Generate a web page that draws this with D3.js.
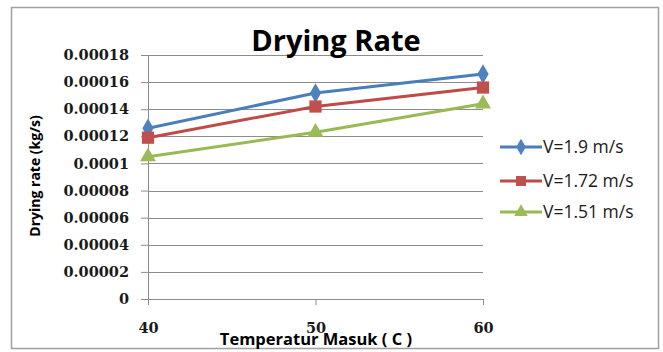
<!DOCTYPE html>
<html>
<head>
<meta charset="utf-8">
<script src="https://cdn.jsdelivr.net/npm/d3@7"></script>
<style>
  html, body { margin: 0; padding: 0; background: #fff; }
  svg { display: block; }
</style>
</head>
<body>
<div class="chart"></div>
<script>
// ----------------------------------
// DATA
// ----------------------------------
const temperatures = [40, 50, 60];
const seriesNames = ['V=1.9 m/s', 'V=1.72 m/s', 'V=1.51 m/s'];
const rateV190 = [0.000126, 0.000152, 0.000166];
const rateV172 = [0.000119, 0.000142, 0.000156];
const rateV151 = [0.000105, 0.000123, 0.000144];
const yTickValues = [0, 0.00002, 0.00004, 0.00006, 0.00008, 0.0001, 0.00012, 0.00014, 0.00016, 0.00018];
const yTickLabels = ['0', '0.00002', '0.00004', '0.00006', '0.00008', '0.0001', '0.00012', '0.00014', '0.00016', '0.00018'];
const xTickLabels = ['40', '50', '60'];

const series = [
  { name: seriesNames[0], values: rateV190, line: '#4A7EBB', fill: '#4F81BD', symbol: d3.symbolDiamond },
  { name: seriesNames[1], values: rateV172, line: '#BE4B48', fill: '#C0504D', symbol: d3.symbolSquare },
  { name: seriesNames[2], values: rateV151, line: '#98B954', fill: '#9BBB59', symbol: d3.symbolTriangle }
];

const width = 663, height = 352;
const margin = { top: 55, right: 180, bottom: 53, left: 148 };
const innerWidth = width - margin.left - margin.right;
const innerHeight = height - margin.top - margin.bottom;

const svg = d3.select('.chart').append('svg')
  .attr('width', width)
  .attr('height', height);

// outer chart frame
svg.append('rect')
  .attr('x', 11.5).attr('y', 7.5)
  .attr('width', 647).attr('height', 341)
  .attr('fill', '#fff')
  .attr('stroke', '#a0a0a0')
  .attr('stroke-width', 1.5);

// ----------------------------------
// SCALES
// ----------------------------------
const xScale = d3.scaleLinear().domain([40, 60]).range([0, innerWidth]);
const yScale = d3.scaleLinear().domain([0, 0.00018]).range([innerHeight, 0]);

const g = svg.append('g').attr('transform', `translate(${margin.left},${margin.top})`);

// gridlines
g.append('g').selectAll('line')
  .data(yTickValues.slice(1))
  .join('line')
  .attr('x1', 0).attr('x2', innerWidth)
  .attr('y1', d => Math.round(yScale(d)) + 0.5)
  .attr('y2', d => Math.round(yScale(d)) + 0.5)
  .attr('stroke', '#8c8c8c')
  .attr('stroke-width', 1);

// y axis
const yAxis = d3.axisLeft(yScale)
  .tickValues(yTickValues)
  .tickFormat((d, i) => yTickLabels[i])
  .tickSize(7)
  .tickPadding(12);
const yG = g.append('g').attr('class', 'y axis').call(yAxis);
yG.selectAll('path, line').attr('stroke', '#8c8c8c');
yG.selectAll('text')
  .style('font-family', '"DejaVu Serif", serif')
  .style('font-weight', 'bold')
  .style('font-size', '14.5px')
  .attr('fill', '#1a1a1a');

// x axis
const xAxis = d3.axisBottom(xScale)
  .tickValues(temperatures)
  .tickFormat((d, i) => xTickLabels[i])
  .tickSize(6)
  .tickSizeOuter(0)
  .tickPadding(18);
const xG = g.append('g').attr('class', 'x axis')
  .attr('transform', `translate(0,${innerHeight})`)
  .call(xAxis);
xG.selectAll('path, line').attr('stroke', '#8c8c8c');
xG.selectAll('text')
  .style('font-family', '"DejaVu Serif", serif')
  .style('font-weight', 'bold')
  .style('font-size', '14.5px')
  .attr('fill', '#1a1a1a');

// ----------------------------------
// LINES + MARKERS
// ----------------------------------
const line = d3.line()
  .x((d, i) => xScale(temperatures[i]))
  .y(d => yScale(d));

series.forEach(s => {
  g.append('path')
    .datum(s.values)
    .attr('d', line)
    .attr('fill', 'none')
    .attr('stroke', s.line)
    .attr('stroke-width', 3);
});

const symbolSize = sym => sym === d3.symbolSquare ? 150 : (sym === d3.symbolDiamond ? 110 : 110);

series.forEach(s => {
  g.append('g').selectAll('path')
    .data(s.values)
    .join('path')
    .attr('transform', (d, i) => `translate(${xScale(temperatures[i])},${yScale(d)})`)
    .attr('d', d3.symbol().type(s.symbol).size(symbolSize(s.symbol)))
    .attr('fill', s.fill);
});

// ----------------------------------
// LEGEND
// ----------------------------------
const legend = svg.append('g').attr('transform', 'translate(500,147)');
const legendRows = legend.selectAll('g')
  .data(series)
  .join('g')
  .attr('transform', (d, i) => `translate(0,${[0, 34, 65][i]})`);
legendRows.append('line')
  .attr('x1', 0).attr('x2', 42)
  .attr('stroke', d => d.line)
  .attr('stroke-width', 3);
legendRows.append('path')
  .attr('transform', 'translate(21,0)')
  .attr('d', d => d3.symbol().type(d.symbol).size(d.symbol === d3.symbolSquare ? 100 : 80)())
  .attr('fill', d => d.fill);
legendRows.append('text')
  .attr('x', 43)
  .attr('dy', '0.36em')
  .text(d => d.name)
  .style('font-family', '"Open Sans", sans-serif')
  .style('font-size', '17.5px')
  .attr('fill', '#1a1a1a');

// ----------------------------------
// TITLES
// ----------------------------------
svg.append('text')
  .attr('x', 336).attr('y', 51)
  .attr('text-anchor', 'middle')
  .text('Drying Rate')
  .style('font-family', '"Open Sans", sans-serif')
  .style('font-weight', 'bold')
  .style('font-size', '29px')
  .attr('fill', '#000');

svg.append('text')
  .attr('x', 316).attr('y', 345)
  .attr('text-anchor', 'middle')
  .text('Temperatur Masuk ( C )')
  .style('font-family', '"Open Sans", sans-serif')
  .style('font-weight', 'bold')
  .style('font-size', '16.5px')
  .attr('fill', '#000');

svg.append('text')
  .attr('transform', 'translate(40,176) rotate(-90)')
  .attr('text-anchor', 'middle')
  .text('Drying rate (kg/s)')
  .style('font-family', '"Open Sans", sans-serif')
  .style('font-weight', 'bold')
  .style('font-size', '14px')
  .attr('fill', '#000');
</script>
</body>
</html>
